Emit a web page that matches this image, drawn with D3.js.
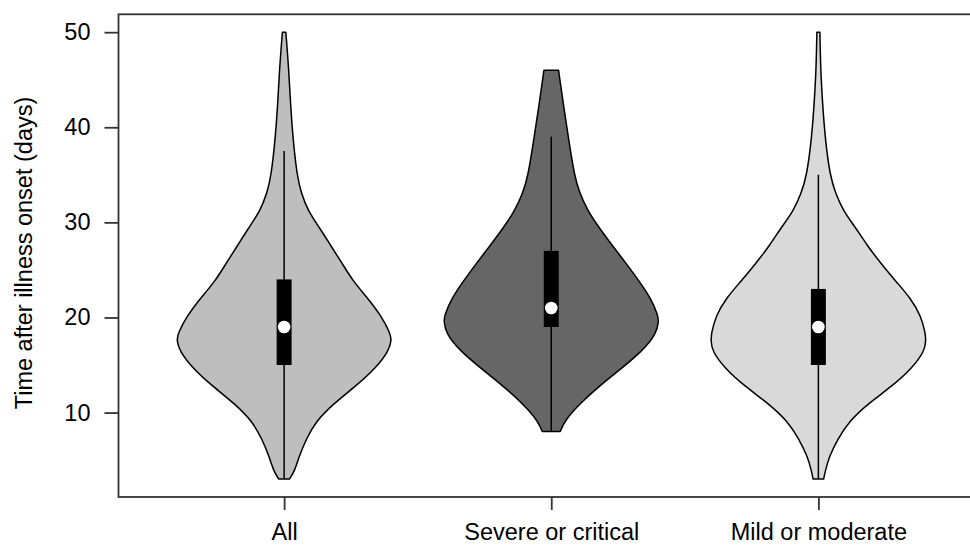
<!DOCTYPE html>
<html>
<head>
<meta charset="utf-8">
<script src="https://cdn.jsdelivr.net/npm/d3@7"></script>
<style>
  html, body { margin: 0; padding: 0; background: #fff; }
  svg { display: block; }
  text { font-family: "Liberation Sans", Arial, sans-serif; fill: #000; }
</style>
</head>
<body>
<svg id="chart" width="970" height="551"></svg>
<script>
// ---- data ----
const categories = ["All", "Severe or critical", "Mild or moderate"];
const fillColors = ["#bebebe", "#666666", "#d9d9d9"];
const yTicks = [10, 20, 30, 40, 50];

// relative density profiles: [days, relative half-width]
const densityAll = [
  [3.0, 0.05], [3.9, 0.10], [5.4, 0.14], [7.2, 0.205], [9.1, 0.298], [10.9, 0.456],
  [12.8, 0.67], [14.7, 0.856], [16.5, 0.975], [17.6, 1.0], [18.3, 0.99], [20.2, 0.902],
  [22.0, 0.781], [23.8, 0.642], [25.7, 0.54], [27.5, 0.437], [29.4, 0.332], [31.2, 0.223],
  [33.1, 0.158], [34.9, 0.121], [38.6, 0.084], [42.3, 0.06], [46.0, 0.044], [50.0, 0.016]
];
const densitySevere = [
  [8.0, 0.084], [9.1, 0.123], [10.9, 0.263], [12.8, 0.448], [14.6, 0.65], [16.5, 0.851],
  [18.3, 0.98], [19.6, 1.0], [20.2, 0.995], [22.0, 0.928], [23.8, 0.82], [25.7, 0.696],
  [27.5, 0.573], [29.4, 0.448], [31.2, 0.341], [33.1, 0.263], [34.9, 0.216], [38.6, 0.164],
  [42.3, 0.114], [46.0, 0.068]
];
const densityMild = [
  [3.0, 0.049], [3.9, 0.065], [5.4, 0.102], [7.2, 0.179], [9.1, 0.288], [10.9, 0.458],
  [12.8, 0.69], [14.7, 0.876], [16.5, 0.99], [17.5, 1.0], [18.3, 0.998], [20.2, 0.954],
  [22.0, 0.861], [23.8, 0.721], [25.7, 0.582], [27.5, 0.458], [29.4, 0.35], [31.2, 0.232],
  [33.1, 0.158], [34.9, 0.109], [38.6, 0.065], [42.3, 0.04], [46.0, 0.021], [50.0, 0.014]
];
const densities = [densityAll, densitySevere, densityMild];

// box summary
const whiskerLow = [3, 8, 3];
const q1 = [15, 19, 15];
const median = [19, 21, 19];
const q3 = [24, 27, 23];
const whiskerHigh = [37.5, 39, 35];

// ---- scales ----
const svg = d3.select("#chart");
const plotLeft = 118.5, plotRight = 984, plotTop = 14.3, plotBottom = 497;
const FONT = 23.5;

const x = d3.scaleLinear().domain([0.38, 3.62]).range([plotLeft, plotRight]);
const y = d3.scaleLinear().domain([1.12, 51.88]).range([plotBottom, plotTop]);
const w = d3.scaleLinear().domain([0, 1]).range([0, 0.402]); // relative density -> x units

// ---- violins ----
categories.forEach((c, i) => {
  const pos = i + 1;
  const area = d3.area()
    .curve(d3.curveBasis)
    .y(d => y(d[0]))
    .x0(d => x(pos - w(d[1])))
    .x1(d => x(pos + w(d[1])));
  svg.append("path")
    .datum(densities[i])
    .attr("d", area)
    .attr("fill", fillColors[i])
    .attr("stroke", "#000")
    .attr("stroke-width", 1.5)
    .attr("stroke-linejoin", "round");

  svg.append("line")
    .attr("x1", x(pos)).attr("x2", x(pos))
    .attr("y1", y(whiskerLow[i])).attr("y2", y(whiskerHigh[i]))
    .attr("stroke", "#000").attr("stroke-width", 1.5);
  const bw = x(pos + 0.028) - x(pos);
  svg.append("rect")
    .attr("x", x(pos) - bw).attr("width", 2 * bw)
    .attr("y", y(q3[i])).attr("height", y(q1[i]) - y(q3[i]))
    .attr("fill", "#000");
  svg.append("circle")
    .attr("cx", x(pos)).attr("cy", y(median[i]))
    .attr("r", 6.3).attr("fill", "#fff");
});

// ---- frame ----
svg.append("rect")
  .attr("x", plotLeft).attr("y", plotTop)
  .attr("width", plotRight - plotLeft).attr("height", plotBottom - plotTop)
  .attr("fill", "none").attr("stroke", "#333").attr("stroke-width", 1.8);

// ---- y axis ----
const yAxis = svg.append("g")
  .attr("transform", `translate(${plotLeft},0)`)
  .call(d3.axisLeft(y).tickValues(yTicks).tickSize(14).tickPadding(14).tickFormat(d3.format("d")));
yAxis.select(".domain").remove();
yAxis.selectAll(".tick line").attr("stroke", "#333").attr("stroke-width", 1.8);
yAxis.selectAll(".tick text")
  .attr("font-size", FONT).attr("font-family", "Liberation Sans, Arial, sans-serif").attr("fill", "#000");

// ---- x axis ----
const xAxis = svg.append("g")
  .attr("transform", `translate(0,${plotBottom})`)
  .call(d3.axisBottom(x).tickValues([1, 2, 3]).tickSize(13).tickPadding(13)
    .tickFormat(d => categories[d - 1]));
xAxis.select(".domain").remove();
xAxis.selectAll(".tick line").attr("stroke", "#333").attr("stroke-width", 1.8);
xAxis.selectAll(".tick text")
  .attr("font-size", FONT).attr("font-family", "Liberation Sans, Arial, sans-serif").attr("fill", "#000");

// ---- y label ----
svg.append("text")
  .attr("transform", `translate(32,253) rotate(-90)`)
  .attr("text-anchor", "middle")
  .attr("font-size", FONT)
  .text("Time after illness onset (days)");
</script>
</body>
</html>
